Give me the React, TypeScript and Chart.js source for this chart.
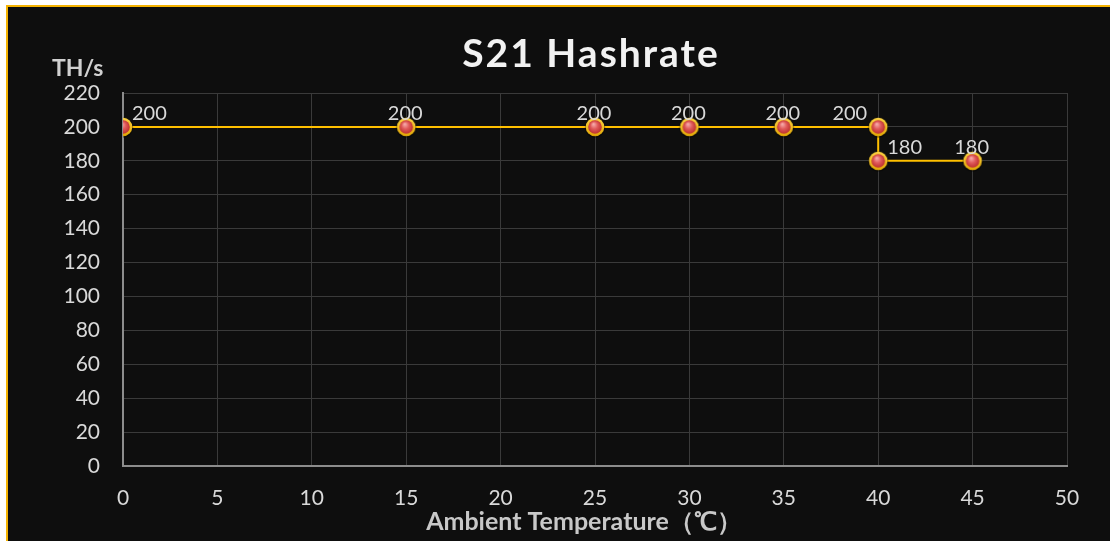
import React, { useEffect, useRef } from "react";
import { Chart, registerables } from "chart.js";

Chart.register(...registerables);

const temperatures = [0, 15, 25, 30, 35, 40, 40, 45];
const hashrates = [200, 200, 200, 200, 200, 200, 180, 180];
const xRange = [0, 50];
const yRange = [0, 220];
const titleText = "S21 Hashrate";
const yUnitText = "TH/s";
const xTitleText = "Ambient Temperature（℃）";
const labelPlacement = ["right", "center", "center", "center", "center", "left", "right", "center"];

const FONT = "Lato, 'Open Sans', sans-serif";
const GOLD = "#ffc000";

function makePointImage(): HTMLCanvasElement {
  const size = 22;
  const c = document.createElement("canvas");
  c.width = size;
  c.height = size;
  const ctx = c.getContext("2d")!;
  const cx = size / 2, cy = size / 2;
  ctx.beginPath();
  ctx.arc(cx, cy + 0.6, 10.2, 0, Math.PI * 2);
  ctx.fillStyle = "rgba(0,0,0,0.4)";
  ctx.fill();
  ctx.beginPath();
  ctx.arc(cx, cy, 9.3, 0, Math.PI * 2);
  const ring = ctx.createLinearGradient(0, 0, 0, size);
  ring.addColorStop(0, "#ffd84a");
  ring.addColorStop(1, "#e0a400");
  ctx.fillStyle = ring;
  ctx.fill();
  ctx.beginPath();
  ctx.arc(cx, cy, 6.8, 0, Math.PI * 2);
  const g = ctx.createRadialGradient(cx - 1.5, cy - 2.8, 0.5, cx, cy, 7.5);
  g.addColorStop(0, "#f6a8a8");
  g.addColorStop(0.45, "#e05a5a");
  g.addColorStop(1, "#b82a2a");
  ctx.fillStyle = g;
  ctx.fill();
  return c;
}

const textPlugin = {
  id: "customTexts",
  afterDraw(chart: any) {
    const ctx = chart.ctx as CanvasRenderingContext2D;
    ctx.save();
    ctx.fillStyle = "#f2f2f2";
    ctx.font = `bold 39px ${FONT}`;
    (ctx as any).letterSpacing = "2px";
    ctx.textAlign = "center";
    ctx.textBaseline = "alphabetic";
    ctx.fillText(titleText, 591, 67);
    (ctx as any).letterSpacing = "0px";
    ctx.fillStyle = "#d0d0d0";
    ctx.font = `bold 23px ${FONT}`;
    ctx.textAlign = "left";
    ctx.fillText(yUnitText, 52, 76);
    ctx.fillStyle = "#c8c8c8";
    ctx.font = `bold 25px ${FONT}`;
    ctx.textAlign = "center";
    ctx.fillText(xTitleText, 584, 530);
    const meta = chart.getDatasetMeta(0);
    ctx.fillStyle = "#d9d9d9";
    ctx.font = `20px ${FONT}`;
    meta.data.forEach((pt: any, i: number) => {
      const v = String(hashrates[i]);
      const place = labelPlacement[i];
      let x = pt.x;
      if (place === "right") {
        ctx.textAlign = "left";
        x = pt.x + 9;
      } else if (place === "left") {
        ctx.textAlign = "right";
        x = pt.x - 11;
      } else {
        ctx.textAlign = "center";
        x = pt.x - 1;
      }
      ctx.fillText(v, x, pt.y - 7);
    });
    ctx.restore();
  },
};

export default function App() {
  const ref = useRef<HTMLCanvasElement>(null);
  useEffect(() => {
    const canvas = ref.current!;
    const pointImg = makePointImage();
    const chart = new Chart(canvas, {
      type: "scatter",
      data: {
        datasets: [
          {
            data: temperatures.map((t, i) => ({ x: t, y: hashrates[i] })),
            showLine: true,
            borderColor: GOLD,
            borderWidth: 2,
            pointStyle: pointImg as any,
            pointRadius: 10,
            pointHoverRadius: 10,
            backgroundColor: GOLD,
          },
        ],
      },
      options: {
        responsive: false,
        animation: false,
        devicePixelRatio: 1,
        layout: { padding: { top: 93, right: 43, left: 0, bottom: 0 } },
        plugins: {
          legend: { display: false },
          title: { display: false },
          tooltip: { enabled: false },
        },
        scales: {
          x: {
            type: "linear",
            min: xRange[0],
            max: xRange[1],
            afterFit: (s: any) => {
              s.height = 75;
            },
            ticks: {
              stepSize: 5,
              color: "#d9d9d9",
              font: { family: FONT, size: 21 },
              padding: 20,
            },
            grid: { color: "#3a3a3a", lineWidth: 1, drawTicks: false },
            border: { color: "#8c8c8c", width: 2 },
          },
          y: {
            min: yRange[0],
            max: yRange[1],
            afterFit: (s: any) => {
              s.width = 123;
            },
            ticks: {
              stepSize: 20,
              color: "#d9d9d9",
              font: { family: FONT, size: 21 },
              padding: 23,
            },
            grid: { color: "#3a3a3a", lineWidth: 1, drawTicks: false },
            border: { color: "#8c8c8c", width: 2 },
          },
        },
      },
      plugins: [textPlugin],
    });
    return () => chart.destroy();
  }, []);

  return (
    <div
      style={{
        position: "fixed",
        left: 0,
        top: 0,
        width: 1110,
        height: 541,
        background: "#ffffff",
        overflow: "hidden",
      }}
    >
      <div
        style={{
          position: "absolute",
          left: 6,
          top: 5,
          width: 1300,
          height: 700,
          borderTop: "2px solid #f5b301",
          borderLeft: "2px solid #f5b301",
          background: "#0e0e0e",
        }}
      />
      <canvas
        ref={ref}
        width={1110}
        height={541}
        style={{ position: "absolute", left: 0, top: 0, width: 1110, height: 541 }}
      />
    </div>
  );
}
